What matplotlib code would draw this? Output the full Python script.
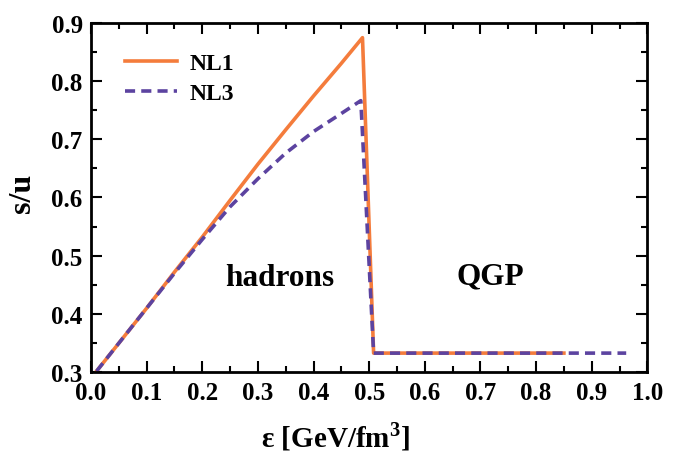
import matplotlib.pyplot as plt
from matplotlib.ticker import MultipleLocator

plt.rcParams['font.family'] = ['Liberation Serif', 'DejaVu Serif']
plt.rcParams['font.weight'] = 'bold'
plt.rcParams['mathtext.fontset'] = 'custom'
plt.rcParams['mathtext.rm'] = 'Liberation Serif:bold'

# NL1 curve (energy density, s/u)
eps_nl1 = [0.01, 0.05, 0.1, 0.15, 0.2, 0.25, 0.3, 0.35, 0.4, 0.45, 0.488, 0.508, 0.6, 0.7, 0.85]
su_nl1 = [0.302, 0.350, 0.410, 0.472, 0.532, 0.595, 0.657, 0.716, 0.774, 0.830, 0.874, 0.333, 0.333, 0.333, 0.333]

# NL3 curve
eps_nl3 = [0.01, 0.05, 0.1, 0.15, 0.2, 0.25, 0.3, 0.35, 0.4, 0.45, 0.485, 0.508, 0.6, 0.8, 0.962]
su_nl3 = [0.302, 0.350, 0.410, 0.470, 0.528, 0.584, 0.632, 0.676, 0.713, 0.744, 0.766, 0.333, 0.333, 0.333, 0.333]

orange = '#f47c3c'
purple = '#5c43a0'

fig = plt.figure(figsize=(6.76, 4.52), dpi=100)
ax = fig.add_axes([0.1346, 0.174, 0.823, 0.774])

ax.plot(eps_nl1, su_nl1, color=orange, lw=2.6, label='NL1')
ax.plot(eps_nl3, su_nl3, color=purple, lw=2.6, ls=(0, (2.8, 1.7)), label='NL3')

ax.text(0.339, 0.463, 'hadrons', fontsize=22.5, fontweight='bold', ha='center', va='center')
ax.text(0.717, 0.465, 'QGP', fontsize=22.5, fontweight='bold', ha='center', va='center')

ax.set_xlim(0.0, 1.0)
ax.set_ylim(0.3, 0.9)
ax.xaxis.set_major_locator(MultipleLocator(0.1))
ax.xaxis.set_minor_locator(MultipleLocator(0.05))
ax.yaxis.set_major_locator(MultipleLocator(0.1))
ax.yaxis.set_minor_locator(MultipleLocator(0.05))
ax.xaxis.set_major_formatter(lambda v, p: f'{v:.1f}')
ax.yaxis.set_major_formatter(lambda v, p: f'{v:.1f}')
ax.tick_params(which='both', direction='in', top=True, right=True, width=1.5,
               labelsize=18, pad=6)
ax.tick_params(which='major', length=8)
ax.tick_params(which='minor', length=4.5)
for s in ax.spines.values():
    s.set_linewidth(2)

ax.set_xlabel(r'ε [GeV/fm$^3$]', fontsize=21, fontweight='bold')
ax.xaxis.set_label_coords(0.44, -0.135)
ax.set_ylabel('s/u', fontsize=23, fontweight='bold')
ax.yaxis.set_label_coords(-0.097, 0.515)

leg = ax.legend(loc='upper left', frameon=False, fontsize=17, handlelength=2.2,
                borderaxespad=0.0, labelspacing=0.35, handletextpad=0.5,
                bbox_to_anchor=(0.045, 0.94))
for t in leg.get_texts():
    t.set_fontweight('bold')

fig.savefig('out.png', dpi=100)
